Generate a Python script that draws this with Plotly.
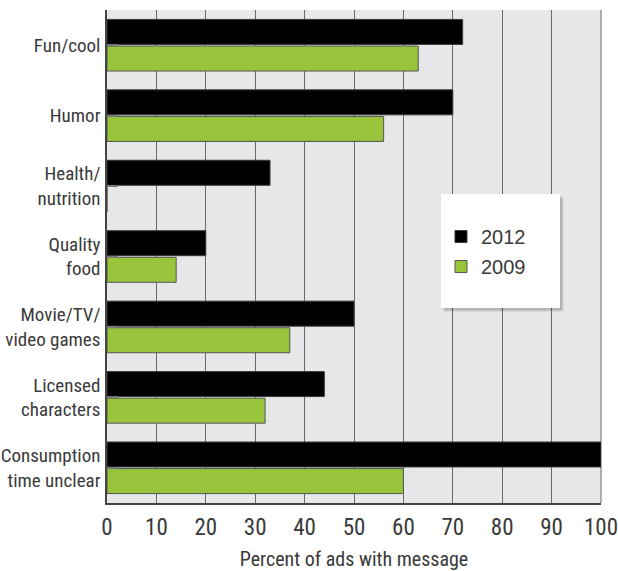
import plotly.graph_objects as go

categories = ["Fun/cool", "Humor", "Health/<br>nutrition", "Quality<br>food",
              "Movie/TV/<br>video games", "Licensed<br>characters",
              "Consumption<br>time unclear"]
values_2012 = [72, 70, 33, 20, 50, 44, 100]
values_2009 = [63, 56, 0, 14, 37, 32, 60]
x_ticks = [0, 10, 20, 30, 40, 50, 60, 70, 80, 90, 100]

NARROW = "Roboto Condensed, Liberation Sans Narrow, sans-serif"
TEXT = "#3a3a3a"
GRID = "#6a6a6a"

fig = go.Figure()
fig.add_trace(go.Bar(
    y=categories, x=values_2012, orientation="h", name="2012",
    legendgroup="a",
    marker=dict(color="#000000", line=dict(color="#3a3a3a", width=1)),
))
fig.add_trace(go.Bar(
    y=categories, x=values_2009, orientation="h", name="2009",
    legendgroup="b",
    marker=dict(color="#99c53c", line=dict(color="#555555", width=1)),
))

# right-edge gridline (plot border at 100)
fig.add_shape(type="line", xref="paper", yref="paper", x0=1, x1=1, y0=0, y1=1,
              line=dict(color=GRID, width=1), layer="below")

# legend box with soft shadow (paper coords)
bx0, bx1, by0, by1 = 0.6761, 0.917, 0.3955, 0.6268
dx, dy = 1 / 494, 1 / 493
for k, a in [(4, 0.06), (3, 0.08), (2, 0.10)]:
    fig.add_shape(type="rect", xref="paper", yref="paper",
                  x0=bx0 + k * dx, x1=bx1 + k * dx, y0=by0 - k * dy, y1=by1 - k * dy,
                  line=dict(width=0), fillcolor=f"rgba(0,0,0,{a})", layer="above")
fig.add_shape(type="rect", xref="paper", yref="paper",
              x0=bx0, x1=bx1, y0=by0, y1=by1,
              line=dict(width=0), fillcolor="white", layer="above")

fig.update_layout(
    width=618, height=571,
    margin=dict(l=107, r=17, t=10, b=68),
    paper_bgcolor="white",
    plot_bgcolor="#e6e7e8",
    barmode="group",
    bargap=0.245,
    bargroupgap=0.06,
    showlegend=True,
    legend=dict(
        x=0.6761, xanchor="left", y=0.58, yanchor="top",
        bgcolor="rgba(0,0,0,0)", borderwidth=0,
        traceorder="grouped", tracegroupgap=1,
        font=dict(family="Liberation Sans, Arial, sans-serif", size=20, color=TEXT),
    ),
    xaxis=dict(
        range=[0, 100], tickvals=x_ticks, ticktext=[str(v) for v in x_ticks],
        showgrid=True, gridcolor=GRID, gridwidth=1,
        showline=True, linecolor="#444444", linewidth=1.5,
        zeroline=False, ticks="", ticklabelstandoff=3,
        ticklabeloverflow="allow", automargin=False,
        tickfont=dict(family=NARROW, size=23, color=TEXT, weight=400),
        title=dict(text="Percent of ads with message", standoff=16,
                   font=dict(family=NARROW, size=20, color=TEXT, weight=400)),
    ),
    yaxis=dict(
        autorange="reversed", automargin=False,
        showgrid=False, showline=True, linecolor="#444444", linewidth=1.5,
        ticks="inside", ticklen=11, tickwidth=2, tickcolor="#777777",
        tickfont=dict(family=NARROW, size=19, color=TEXT, weight=400),
        ticklabelstandoff=1,
    ),
)

fig.write_html("out.html", config={"displayModeBar": False},
               post_script="document.body.style.margin='0';document.body.style.overflow='hidden';")
